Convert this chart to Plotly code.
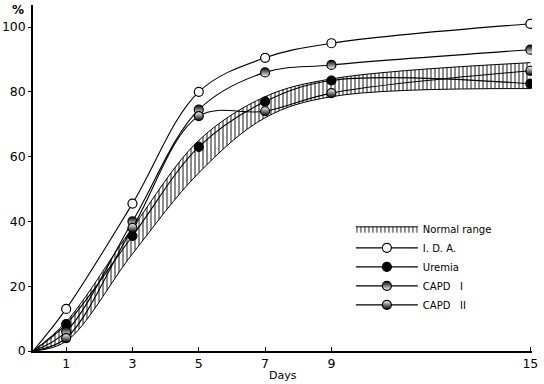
import plotly.graph_objects as go

days = [0, 1, 3, 5, 7, 9, 15]
ida = [0, 13, 45.5, 80, 90.5, 95, 101]
uremia = [0, 8.3, 35.5, 63, 77, 83.5, 82.5]
capd1 = [0, 6, 40, 74.5, 86, 88.3, 93]
capd2 = [0, 4, 38, 72.5, 74, 79.6, 86.5]
normal_low = [0, 3, 30, 55, 72, 78.5, 81]
normal_high = [0, 9, 38, 65, 78.5, 84, 89]

xticks = [1, 3, 5, 7, 9, 15]
yticks = [0, 20, 40, 60, 80, 100]

FONT = "DejaVu Sans"
fig = go.Figure()

fig.add_trace(go.Scatter(x=days, y=normal_low, mode="lines", line=dict(color="black", width=1, shape="spline"),
                         showlegend=False, hoverinfo="skip"))
fig.add_trace(go.Scatter(x=days, y=normal_high, mode="lines", line=dict(color="black", width=1, shape="spline"),
                         fill="tonexty", fillcolor="white",
                         fillpattern=dict(shape="|", fgcolor="black", bgcolor="white", size=4, solidity=0.45),
                         name="Normal range"))

def series(y, name, color, grad=None):
    m = dict(symbol="circle", size=9, color=color, line=dict(color="black", width=1.2))
    if grad:
        m["gradient"] = dict(type="vertical", color=grad)
    fig.add_trace(go.Scatter(x=days, y=y, mode="lines+markers", name=name,
                             line=dict(color="black", width=1.1, shape="spline"),
                             marker=m, selectedpoints=list(range(1, len(y))),
                             unselected=dict(marker=dict(opacity=0))))

series(ida, "I.\u00a0D.\u00a0A.", "white")
series(uremia, "Uremia", "black")
series(capd1, "CAPD\u00a0\u00a0\u00a0I", "black", "white")
series(capd2, "CAPD\u00a0\u00a0\u00a0II", "white", "black")

fig.update_layout(
    width=544, height=384,
    margin=dict(l=33, r=12, t=5, b=33, autoexpand=False),
    plot_bgcolor="white", paper_bgcolor="white",
    font=dict(family=FONT, size=12.5, color="black"),
    legend=dict(x=0.637, y=0.395, xanchor="left", yanchor="top", itemwidth=62, traceorder="normal",
                font=dict(family=FONT, size=10), bgcolor="rgba(0,0,0,0)", tracegroupgap=0),
    xaxis=dict(range=[0, 15.05], tickvals=xticks, ticks="inside", ticklen=4, tickcolor="black",
               showline=True, linecolor="black", linewidth=1.5, showgrid=False, zeroline=False,
               automargin=False),
    yaxis=dict(range=[0, 106.8], tickvals=yticks, ticks="outside", ticklen=3, tickcolor="black",
               showline=True, linecolor="black", linewidth=1.5, showgrid=False, zeroline=False,
               automargin=False),
    annotations=[
        dict(text="<b>%</b>", xref="paper", yref="paper", x=-0.03, y=0.985,
             xanchor="center", yanchor="middle", showarrow=False, font=dict(family=FONT, size=12)),
        dict(text="Days", xref="paper", yref="paper", x=0.5, y=-0.072,
             xanchor="center", yanchor="middle", showarrow=False, font=dict(family=FONT, size=11)),
    ],
)

fig.write_html("out.html", config={"displayModeBar": False},
               post_script="document.body.style.margin='0';document.body.style.padding='0';")
